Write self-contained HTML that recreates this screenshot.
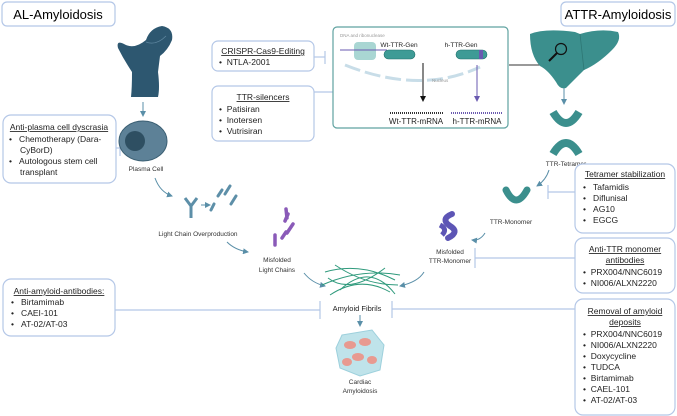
<!DOCTYPE html>
<html><head><meta charset="utf-8"><style>
html,body{margin:0;padding:0;background:#fff;}
svg{display:block;font-family:"Liberation Sans",sans-serif;}
.box{fill:#fff;stroke:#b4c7e7;stroke-width:1.2;}
.t{font-size:8.5px;fill:#222;}
.s{font-size:6.5px;fill:#333;}
.ln{stroke:#b4c7e7;stroke-width:1.2;fill:none;}
.ar{stroke:#5a8fa8;stroke-width:1;fill:none;marker-end:url(#ah);}
</style></head><body>
<svg width="677" height="416" viewBox="0 0 677 416">
<defs><marker id="ah" markerWidth="6" markerHeight="6" refX="5" refY="3" orient="auto"><path d="M0,0L6,3L0,6z" fill="#5a8fa8"/></marker>
<marker id="ak" markerWidth="6" markerHeight="6" refX="5" refY="3" orient="auto"><path d="M0,0L6,3L0,6z" fill="#111"/></marker>
<marker id="ap" markerWidth="6" markerHeight="6" refX="5" refY="3" orient="auto"><path d="M0,0L6,3L0,6z" fill="#6a5ab0"/></marker></defs>

<rect class="box" x="2" y="2" width="113" height="24" rx="5"/>
<text x="58" y="19" text-anchor="middle" font-size="13">AL-Amyloidosis</text>
<rect class="box" x="561" y="2" width="114" height="24" rx="5"/>
<text x="618" y="19" text-anchor="middle" font-size="13">ATTR-Amyloidosis</text>

<rect class="box" x="212" y="41" width="102" height="30" rx="6"/>
<text class="t" x="263" y="54" text-anchor="middle" text-decoration="underline">CRISPR-Cas9-Editing</text>
<text class="t" x="219" y="65">•&#160;&#160;NTLA-2001</text>
<line class="ln" x1="314" y1="57" x2="325" y2="57"/><line class="ln" x1="325" y1="51" x2="325" y2="64"/>

<rect class="box" x="212" y="86" width="102" height="55" rx="6"/>
<text class="t" x="263" y="100" text-anchor="middle" text-decoration="underline">TTR-silencers</text>
<text class="t" x="219" y="112">•&#160;&#160;Patisiran</text>
<text class="t" x="219" y="123">•&#160;&#160;Inotersen</text>
<text class="t" x="219" y="134">•&#160;&#160;Vutrisiran</text>
<line class="ln" x1="314" y1="92" x2="402" y2="92"/><line class="ln" x1="402" y1="85" x2="402" y2="100"/>

<rect x="333" y="27" width="175" height="101" rx="4" fill="#fff" stroke="#5fa2a0" stroke-width="1.2"/>
<text x="340" y="37" font-size="4.5" fill="#999">DNA and ribonuclease</text>
<rect x="354" y="42" width="22" height="18" rx="4" fill="#a9d6d3"/>
<line x1="340" y1="50" x2="387" y2="50" stroke="#6a5ab0" stroke-width="1"/>
<path d="M345,65 Q420,95 480,67" stroke="#c8dde8" stroke-width="3" fill="none" stroke-dasharray="16,5"/>
<text x="432" y="82" font-size="4.5" fill="#999">Nucleus</text>
<text x="399" y="47" font-size="6.5" fill="#222" text-anchor="middle">Wt-TTR-Gen</text>
<rect x="384" y="50" width="31" height="9" rx="4.5" fill="#3e9b96" stroke="#1f6f6b" stroke-width=".6"/>
<text x="461" y="47" font-size="6.5" fill="#222" text-anchor="middle">h-TTR-Gen</text>
<rect x="456" y="50" width="31" height="9" rx="4.5" fill="#3e9b96" stroke="#1f6f6b" stroke-width=".6"/>
<rect x="479" y="50" width="4" height="9" fill="#6a5ab0"/>
<line x1="423" y1="63" x2="423" y2="101" stroke="#111" stroke-width="1" marker-end="url(#ak)"/>
<line x1="477" y1="65" x2="477" y2="101" stroke="#6a5ab0" stroke-width="1" marker-end="url(#ap)"/>
<line x1="390" y1="113" x2="443" y2="113" stroke="#333" stroke-width="2" stroke-dasharray="1,1"/>
<line x1="451" y1="113" x2="503" y2="113" stroke="#6a5ab0" stroke-width="2" stroke-dasharray="1,1"/>
<text x="416" y="124" font-size="8" fill="#222" text-anchor="middle">Wt-TTR-mRNA</text>
<text x="477" y="124" font-size="8" fill="#222" text-anchor="middle">h-TTR-mRNA</text>
<line x1="509" y1="65" x2="545" y2="65" stroke="#333" stroke-width="1"/>

<!-- liver -->
<path d="M530,34 Q545,28 575,32 L580,34 Q600,28 618,32 Q622,40 612,50 Q598,64 584,70 Q576,78 566,88 Q560,90 556,82 Q548,70 540,66 Q530,55 530,34z" fill="#3b8f8d"/>
<line x1="580" y1="34" x2="584" y2="70" stroke="#2e7774" stroke-width=".8"/>
<circle cx="561" cy="49" r="5.5" fill="none" stroke="#111" stroke-width="1.2"/>
<line x1="557" y1="53" x2="549" y2="61" stroke="#111" stroke-width="2"/>
<line x1="564" y1="88" x2="564" y2="104" class="ar"/>
<!-- tetramer -->
<path d="M553,112 Q566,134 579,112" stroke="#3b8f8d" stroke-width="8" fill="none"/>
<path d="M553,154 Q566,132 579,154" stroke="#3b8f8d" stroke-width="8" fill="none"/>
<text class="s" x="566" y="166" text-anchor="middle">TTR-Tetramer</text>
<path d="M549,170 Q546,180 537,186" class="ar"/>
<path d="M506,190 Q516,210 527,190" stroke="#3b8f8d" stroke-width="7" fill="none" stroke-linecap="round"/>
<text class="s" x="511" y="224" text-anchor="middle">TTR-Monomer</text>
<path d="M485,233 Q480,241 472,240" class="ar"/>
<path d="M452,214 q-12,5 -2,12 q10,6 -2,12" stroke="#5d55b5" stroke-width="6" fill="none" stroke-linecap="round"/>
<path d="M440,225 q8,4 2,10" stroke="#5d55b5" stroke-width="5" fill="none"/>
<text class="s" x="450" y="254" text-anchor="middle">Misfolded</text>
<text class="s" x="450" y="263" text-anchor="middle">TTR-Monomer</text>
<path d="M424,272 Q418,282 400,286" class="ar"/>

<rect class="box" x="575" y="164" width="100" height="69" rx="8"/>
<text class="t" x="625" y="177" text-anchor="middle" text-decoration="underline">Tetramer stabilization</text>
<text class="t" x="583" y="190">•&#160;&#160;&#160;Tafamidis</text>
<text class="t" x="583" y="201">•&#160;&#160;&#160;Diflunisal</text>
<text class="t" x="583" y="212">•&#160;&#160;&#160;AG10</text>
<text class="t" x="583" y="223">•&#160;&#160;&#160;EGCG</text>
<line class="ln" x1="575" y1="192" x2="548" y2="192"/><line class="ln" x1="548" y1="185" x2="548" y2="199"/>

<rect class="box" x="575" y="238" width="100" height="55" rx="8"/>
<text class="t" x="625" y="252" text-anchor="middle" text-decoration="underline">Anti-TTR monomer</text>
<text class="t" x="625" y="263" text-anchor="middle" text-decoration="underline">antibodies</text>
<text class="t" x="583" y="275">•&#160;&#160;PRX004/NNC6019</text>
<text class="t" x="583" y="286">•&#160;&#160;NI006/ALXN2220</text>
<line class="ln" x1="575" y1="258" x2="475" y2="258"/><line class="ln" x1="475" y1="248" x2="475" y2="268"/>

<rect class="box" x="575" y="299" width="100" height="116" rx="8"/>
<text class="t" x="625" y="314" text-anchor="middle" text-decoration="underline">Removal of amyloid</text>
<text class="t" x="625" y="325" text-anchor="middle" text-decoration="underline">deposits</text>
<text class="t" x="583" y="337">•&#160;&#160;PRX004/NNC6019</text>
<text class="t" x="583" y="348">•&#160;&#160;NI006/ALXN2220</text>
<text class="t" x="583" y="359">•&#160;&#160;Doxycycline</text>
<text class="t" x="583" y="370">•&#160;&#160;TUDCA</text>
<text class="t" x="583" y="381">•&#160;&#160;Birtamimab</text>
<text class="t" x="583" y="392">•&#160;&#160;CAEL-101</text>
<text class="t" x="583" y="403">•&#160;&#160;AT-02/AT-03</text>
<line class="ln" x1="575" y1="309" x2="392" y2="309"/><line class="ln" x1="392" y1="301" x2="392" y2="318"/>

<rect class="box" x="3" y="115" width="113" height="68" rx="8"/>
<text class="t" x="59" y="130" text-anchor="middle" text-decoration="underline">Anti-plasma cell dyscrasia</text>
<text class="t" x="9" y="142">•&#160;&#160;&#160;Chemotherapy (Dara-</text>
<text class="t" x="20" y="153">CyBorD)</text>
<text class="t" x="9" y="164">•&#160;&#160;&#160;Autologous stem cell</text>
<text class="t" x="20" y="175">transplant</text>
<line class="ln" x1="116" y1="148" x2="120" y2="148"/><line class="ln" x1="120" y1="140" x2="120" y2="156"/>

<rect class="box" x="3" y="279" width="112" height="57" rx="8"/>
<text class="t" x="59" y="294" text-anchor="middle" text-decoration="underline">Anti-amyloid-antibodies:</text>
<text class="t" x="11" y="305">•&#160;&#160;&#160;Birtamimab</text>
<text class="t" x="11" y="316">•&#160;&#160;&#160;CAEI-101</text>
<text class="t" x="11" y="327">•&#160;&#160;&#160;AT-02/AT-03</text>
<line class="ln" x1="115" y1="310" x2="320" y2="310"/><line class="ln" x1="320" y1="301" x2="320" y2="319"/>

<!-- bone (femur) -->
<path d="M118,48 Q116,40 124,44 Q134,50 146,40 Q150,28 162,26 Q174,28 172,40 Q168,50 160,56 L158,72 Q160,88 158,97 L131,97 Q132,88 132,72 Q124,60 118,48z" fill="#2d5770"/>
<path d="M146,42 Q156,46 166,36" stroke="#5f87a0" stroke-width=".8" fill="none"/>
<line x1="143" y1="102" x2="143" y2="116" class="ar"/>
<ellipse cx="143" cy="141" rx="24" ry="20" fill="#5d8197" stroke="#3b5f73"/>
<circle cx="135" cy="141" r="10" fill="#2e4f62"/>
<text class="s" x="146" y="171" text-anchor="middle">Plasma Cell</text>
<path d="M155,178 Q160,192 172,196" class="ar"/>
<path d="M185,198 l6,8 l6,-8 M191,206 v12" stroke="#5d8fa8" stroke-width="3" fill="none"/>
<line x1="201" y1="205" x2="210" y2="205" class="ar"/>
<path d="M222,190 l-4,6 M230,186 l-5,8 M214,204 l-3,6 M236,196 l-5,8" stroke="#5d8fa8" stroke-width="3" stroke-linecap="round"/>
<text class="s" x="198" y="236" text-anchor="middle">Light Chain Overproduction</text>
<path d="M227,242 Q235,250 248,252" class="ar"/>
<path d="M286,209 l1,9 M285,221 l3,-7 M293,224 l-6,9 M275,235 l0,10 M282,238 l4,-6" stroke="#8a5ab8" stroke-width="3.5" stroke-linecap="round"/>
<text class="s" x="277" y="262" text-anchor="middle">Misfolded</text>
<text class="s" x="277" y="272" text-anchor="middle">Light Chains</text>
<path d="M304,273 Q312,283 325,286" class="ar"/>

<g stroke="#2f9a7c" stroke-width="1" fill="none">
<path d="M325,272 Q360,262 395,280"/><path d="M322,285 Q360,268 400,275"/><path d="M330,295 Q360,275 390,292"/>
<path d="M335,265 Q365,285 398,285"/><path d="M328,278 Q350,295 385,268"/><path d="M340,290 Q370,262 395,294"/>
</g>
<text x="357" y="311" font-size="7.5" fill="#222" text-anchor="middle">Amyloid Fibrils</text>
<line x1="360" y1="315" x2="360" y2="326" class="ar"/>
<path d="M342,335 L372,330 L384,345 L380,370 L360,376 L340,368 L336,348z" fill="#bfe3ea" stroke="#9dd0dc"/>
<ellipse cx="350" cy="345" rx="6" ry="4" fill="#e89a90"/><ellipse cx="365" cy="342" rx="6" ry="4" fill="#e89a90"/>
<ellipse cx="358" cy="357" rx="6" ry="4" fill="#e89a90"/><ellipse cx="372" cy="360" rx="5" ry="4" fill="#e89a90"/>
<ellipse cx="347" cy="362" rx="5" ry="4" fill="#e89a90"/>
<text class="s" x="360" y="384" text-anchor="middle">Cardiac</text>
<text class="s" x="360" y="393" text-anchor="middle">Amyloidosis</text>
</svg>
</body></html>
